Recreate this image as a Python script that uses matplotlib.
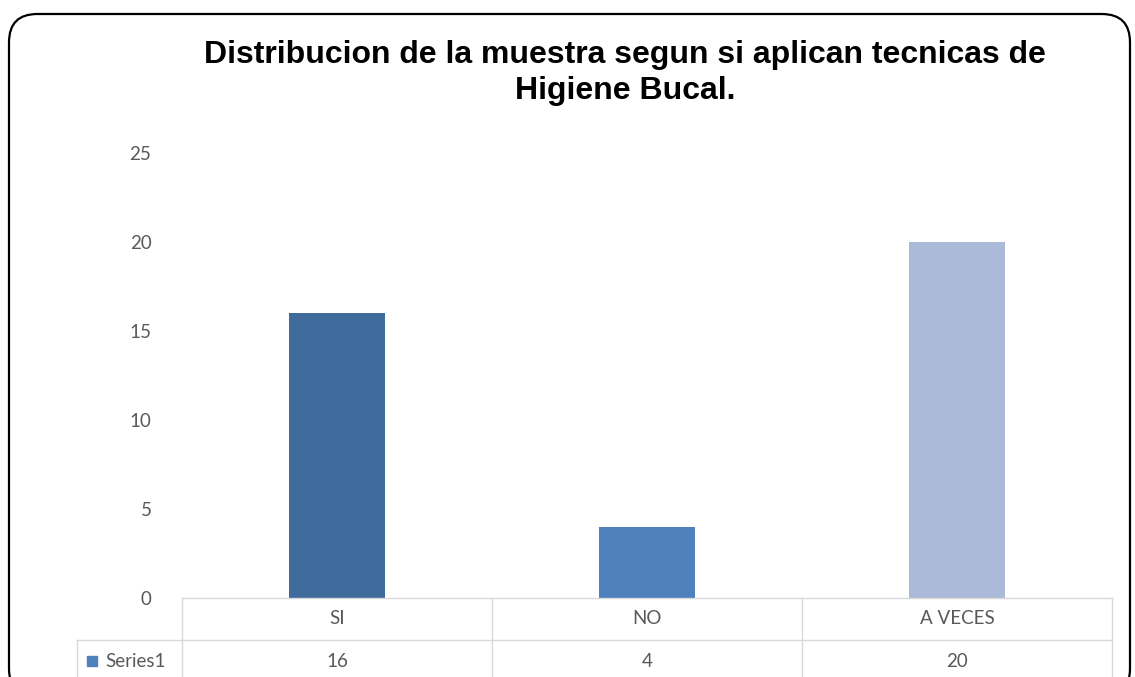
import matplotlib.pyplot as plt
from matplotlib.patches import FancyBboxPatch, Rectangle
import matplotlib.transforms as mtransforms

categories = ["SI", "NO", "A VECES"]
values = [16, 4, 20]
series_name = "Series1"
bar_colors = ["#3F6A9C", "#4F81BD", "#AABAD8"]
legend_color = "#4F81BD"
yticks = [0, 5, 10, 15, 20, 25]

W, H = 1135, 677
fig = plt.figure(figsize=(W / 100, H / 100), dpi=100)

# rounded outer frame
frame = FancyBboxPatch((9 / W, -20 / H), 1121 / W, (H - 14 + 20) / H,
                       boxstyle="round,pad=0,rounding_size=0.025",
                       transform=fig.transFigure, fill=False,
                       edgecolor="black", linewidth=1.6, mutation_aspect=W / H)
fig.patches.append(frame)

fig.text(625 / W, 1 - 73 / H, "Distribucion de la muestra segun si aplican tecnicas de\nHigiene Bucal.",
         ha="center", va="center", fontsize=23, fontweight="bold",
         family="Liberation Sans", linespacing=1.3)

ax = fig.add_axes([182 / W, (H - 598) / H, 930 / W, (598 - 153) / H])
x = range(len(categories))
ax.bar(x, values, width=0.31, color=bar_colors)
ax.set_xlim(-0.5, len(categories) - 0.5)
ax.set_ylim(0, 25)
ax.set_yticks(yticks)
ax.set_yticklabels([str(t) for t in yticks], fontsize=13.5, color="#595959", family="Lato")
ax.tick_params(axis="y", length=0, pad=22)
ax.set_xticks([])
for s in ax.spines.values():
    s.set_visible(False)

# data table under the axis
grid = "#D9D9D9"
row_h = 42 / (598 - 153)
trans = mtransforms.blended_transform_factory(ax.transData, ax.transAxes)
left_x = -0.5 - (182 - 77) / 310
kw = dict(color=grid, lw=1, clip_on=False)
ax.plot([-0.5, 2.5], [0, 0], transform=trans, **kw)
ax.plot([left_x, 2.5], [-row_h, -row_h], transform=trans, **kw)
for xv in [-0.5, 0.5, 1.5, 2.5]:
    ax.plot([xv, xv], [0, -2.2 * row_h], transform=trans, **kw)
ax.plot([left_x, left_x], [-row_h, -2.2 * row_h], transform=trans, **kw)

for i, (c, v) in enumerate(zip(categories, values)):
    ax.text(i, -0.5 * row_h, c, transform=trans, ha="center", va="center",
            fontsize=13.5, color="#595959", family="Lato")
    ax.text(i, -1.52 * row_h, str(v), transform=trans, ha="center", va="center",
            fontsize=13.5, color="#595959", family="Lato")

ax.add_patch(Rectangle((left_x + 10 / 310, -1.62 * row_h), 10 / 310, 10 / (598 - 153),
                       transform=trans, color=legend_color, clip_on=False))
ax.text(left_x + 28 / 310, -1.52 * row_h, series_name, transform=trans, ha="left",
        va="center", fontsize=13.5, color="#595959", family="Lato")

fig.savefig("out.png", dpi=100)
